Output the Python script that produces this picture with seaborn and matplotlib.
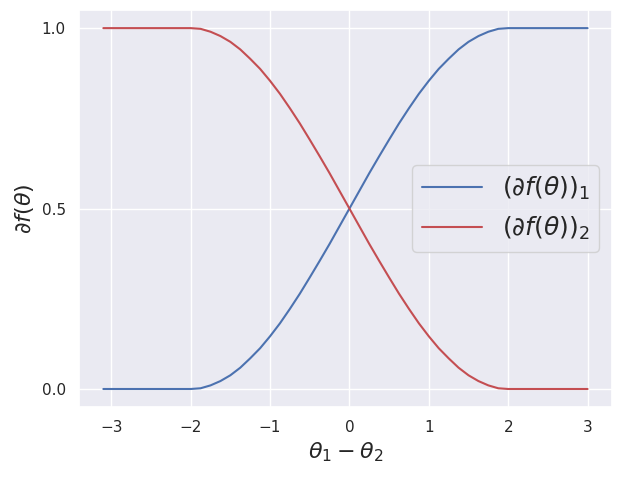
import pandas as pd
import numpy as np
import seaborn as sns
import matplotlib
matplotlib.use('Agg')
import matplotlib.pyplot as plt

# values
theta_diff = [-3.1, -2.5, -2.0, -1.875, -1.75, -1.625, -1.5, -1.375, -1.25, -1.125, -1.0,
              -0.875, -0.75, -0.625, -0.5, -0.375, -0.25, -0.125, 0.0,
              0.125, 0.25, 0.375, 0.5, 0.625, 0.75, 0.875, 1.0,
              1.125, 1.25, 1.375, 1.5, 1.625, 1.75, 1.875, 2.0, 2.5, 3.0]
grad_1 = [0.0, 0.0, 0.0, 0.002, 0.01, 0.022, 0.038, 0.059, 0.085, 0.113, 0.146,
          0.182, 0.222, 0.264, 0.309, 0.355, 0.402, 0.451, 0.5,
          0.549, 0.598, 0.645, 0.691, 0.736, 0.778, 0.818, 0.854,
          0.887, 0.915, 0.941, 0.962, 0.978, 0.99, 0.998, 1.0, 1.0, 1.0]
grad_2 = [1.0, 1.0, 1.0, 0.998, 0.99, 0.978, 0.962, 0.941, 0.915, 0.887, 0.854,
          0.818, 0.778, 0.736, 0.691, 0.645, 0.598, 0.549, 0.5,
          0.451, 0.402, 0.355, 0.309, 0.264, 0.222, 0.182, 0.146,
          0.113, 0.085, 0.059, 0.038, 0.022, 0.01, 0.002, 0.0, 0.0, 0.0]
series_names = [r'$(\partial f(\theta))_1$', r'$(\partial f(\theta))_2$']
series_colors = ['#4c72b0', '#c44e52']

df = pd.DataFrame({'x': theta_diff + theta_diff,
                   'y': grad_1 + grad_2,
                   'series': [series_names[0]] * len(theta_diff) + [series_names[1]] * len(theta_diff)})

sns.set_theme(style='darkgrid')
fig, ax = plt.subplots(figsize=(6.23, 4.8), dpi=100)
sns.lineplot(data=df, x='x', y='y', hue='series', palette=series_colors, ax=ax, linewidth=1.5)

ax.set_xticks([-3, -2, -1, 0, 1, 2, 3])
ax.set_yticks([0.0, 0.5, 1.0])
ax.set_xlabel(r'$\theta_1 - \theta_2$', fontsize=16)
ax.set_ylabel(r'$\partial f(\theta)$', fontsize=16)
ax.legend(loc='center right', fontsize=18, title=None, handlelength=2.4)

fig.subplots_adjust(left=0.127, right=0.982, top=0.979, bottom=0.152)
plt.savefig('out.png', dpi=100)
